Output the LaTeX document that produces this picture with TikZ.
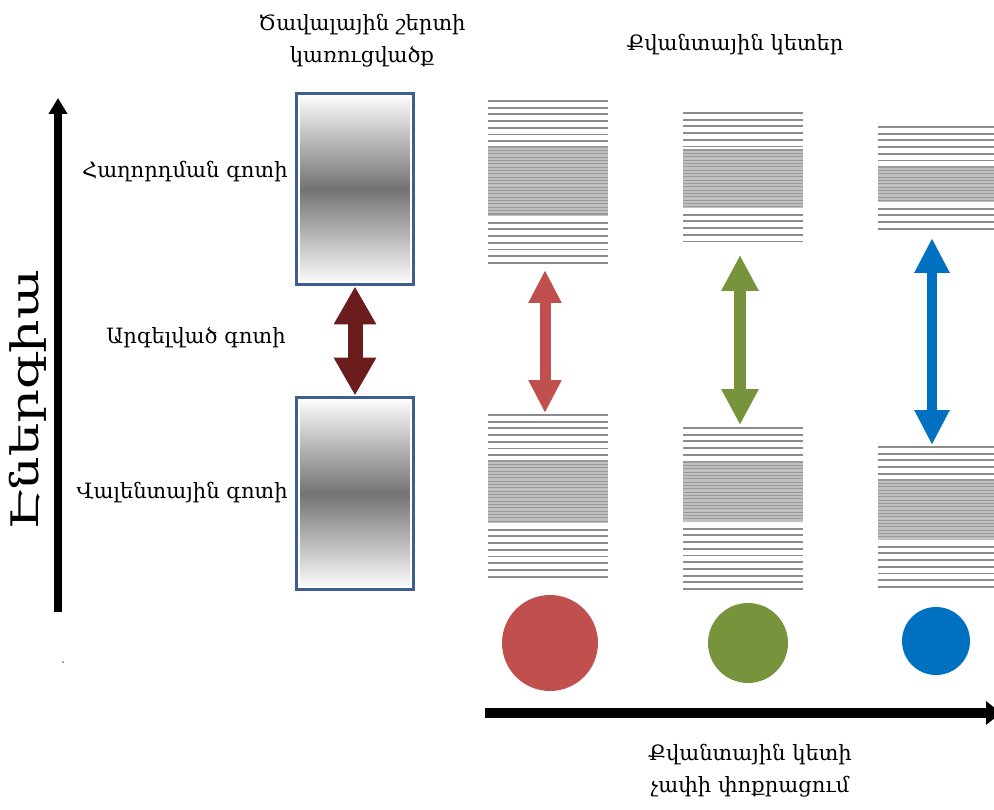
\documentclass[tikz,border=0pt]{standalone}
\usepackage{fontspec}
\setmainfont{DejaVu Serif}
\usepackage{tikz}
\usetikzlibrary{arrows.meta, positioning}

\definecolor{boxblue}{HTML}{3C5F8F}
\definecolor{gapred}{HTML}{6B1C1C}
\definecolor{dotred}{HTML}{C0504D}
\definecolor{dotgreen}{HTML}{77933C}
\definecolor{dotblue}{HTML}{0070C0}

\tikzset{
  lbl/.style={font=\fontsize{12}{18}\selectfont, inner sep=0pt},
  bulkbox/.style={draw=boxblue, line width=1.7pt, fill=white, minimum width=2.36cm, inner sep=0pt,
    path picture={\shade[top color=white, bottom color=white, middle color=black!55]
      ([shift={(2.5pt,-2.5pt)}]path picture bounding box.north west) rectangle
      ([shift={(-2.5pt,2.5pt)}]path picture bounding box.south east);}},
  qdot/.style={circle, inner sep=0pt},
  level/.style={draw=black!45, line width=1.1pt},
  dense/.style={draw=black!40, line width=0.6pt}
}

% energy levels of one quantum dot: x0, x1, top, dense top, dense bottom, bottom
\newcommand{\qdlevels}[6]{
  \pgfmathtruncatemacro\na{(#4-#3)/6.7}
  \foreach \i in {0,...,\na}
    \draw[level] (#1,{#3+\i*6.7}) -- (#2,{#3+\i*6.7});
  \fill[black!25] (#1,#4) rectangle (#2,#5);
  \pgfmathtruncatemacro\nb{(#5-#4)/3.35}
  \foreach \i in {0,...,\nb}
    \draw[dense] (#1,{#4+\i*3.35}) -- (#2,{#4+\i*3.35});
  \pgfmathtruncatemacro\nc{(#6-#5)/6.7}
  \foreach \i in {1,...,\nc}
    \draw[level] (#1,{#5+\i*6.7}) -- (#2,{#5+\i*6.7});
}

\begin{document}
\begin{tikzpicture}[x=0.02cm, y=-0.02cm]
  \useasboundingbox (0,0) rectangle (994,810);

  % energy axis
  \coordinate (e0) at (58,612);
  \coordinate (e1) at (58,98);
  \draw[line width=0.16cm, -{Triangle[width=0.36cm, length=0.32cm]}] (e0) -- (e1);
  \node[lbl, font=\fontsize{30}{34}\selectfont, rotate=90] (energy) at (28,400) {\scalebox{1}[0.72]{Էներգիա}};
  \fill[black!60] (63,662) circle (1);

  % bulk
  \node[lbl, align=center] (bulk) at (362,41) {Ծավալային շերտի\\կառուցվածք};
  \node[bulkbox, minimum height=3.84cm] (cb) at (355,189) {};
  \node[bulkbox, minimum height=3.86cm] (vb) at (355,493.5) {};
  \draw[gapred, line width=0.3cm, {Triangle[width=0.8cm, length=0.76cm]}-{Triangle[width=0.8cm, length=0.76cm]}]
    (cb.south) -- (vb.north);
  \node[lbl, anchor=east] (cbl) at (288,172) {Հաղորդման գոտի};
  \node[lbl, anchor=east] (gapl) at (286,338) {Արգելված գոտի};
  \node[lbl, anchor=east] (vbl) at (288,493) {Վալենտային գոտի};

  % quantum dots
  \node[lbl] (qd) at (735,45) {Քվանտային կետեր};

  \qdlevels{488}{608}{101}{147}{216}{268}
  \qdlevels{488}{608}{415}{461}{523}{583}
  \qdlevels{683}{803}{113}{150}{208}{248}
  \qdlevels{683}{803}{428}{462}{522}{590}
  \qdlevels{878}{994}{127}{167}{202}{235}
  \qdlevels{878}{994}{447}{480}{540}{590}

  \coordinate (rt) at (545,270);
  \coordinate (rb) at (545,413);
  \coordinate (gt) at (740,255);
  \coordinate (gb) at (740,425);
  \coordinate (bt) at (932,238);
  \coordinate (bb) at (932,445);
  \draw[dotred, line width=0.22cm, {Triangle[width=0.62cm, length=0.66cm]}-{Triangle[width=0.62cm, length=0.66cm]}] (rt) -- (rb);
  \draw[dotgreen, line width=0.24cm, {Triangle[width=0.7cm, length=0.72cm]}-{Triangle[width=0.7cm, length=0.72cm]}] (gt) -- (gb);
  \draw[dotblue, line width=0.2cm, {Triangle[width=0.66cm, length=0.7cm]}-{Triangle[width=0.66cm, length=0.7cm]}] (bt) -- (bb);

  \node[qdot, fill=dotred, minimum size=1.92cm] (d1) at (550,643) {};
  \node[qdot, fill=dotgreen, minimum size=1.6cm] (d2) at (748,643) {};
  \node[qdot, fill=dotblue, minimum size=1.36cm] (d3) at (936,641) {};

  % size axis
  \coordinate (s0) at (485,713);
  \coordinate (s1) at (1001,713);
  \draw[line width=0.2cm, -{Triangle[width=0.46cm, length=0.3cm]}] (s0) -- (s1);
  \node[lbl, align=center] (size) at (750,771) {Քվանտային կետի\\չափի փոքրացում};
\end{tikzpicture}
\end{document}
